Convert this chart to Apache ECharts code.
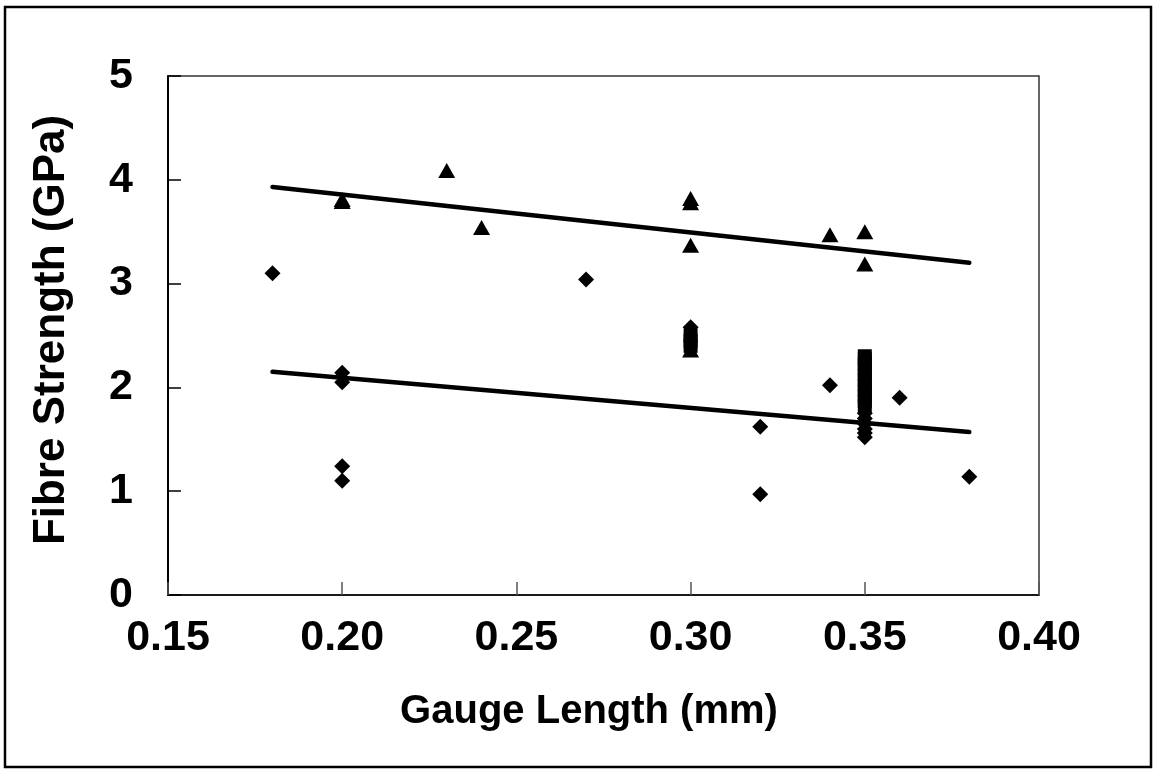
<!DOCTYPE html>
<html>
<head>
<meta charset="utf-8">
<script src="https://cdn.jsdelivr.net/npm/echarts@6/dist/echarts.min.js"></script>
<style>
html,body{margin:0;padding:0;background:#fff;}
#c{width:1154px;height:772px;}
</style>
</head>
<body>
<div id="c"></div>
<script>
// ---- data ----
const xTicks = [0.15, 0.20, 0.25, 0.30, 0.35, 0.40];
const yTicks = [0, 1, 2, 3, 4, 5];
const xTitle = 'Gauge Length (mm)';
const yTitle = 'Fibre Strength (GPa)';

// diamonds
const diamondX = [0.18, 0.20, 0.20, 0.20, 0.20, 0.27, 0.30, 0.32, 0.32, 0.34, 0.36, 0.38, 0.35, 0.35, 0.35, 0.35, 0.35, 0.35];
const diamondY = [3.10, 2.14, 2.05, 1.24, 1.10, 3.04, 2.58, 1.62, 0.97, 2.02, 1.90, 1.14, 1.52, 1.56, 1.60, 1.65, 1.70, 1.75];
// triangles
const triX = [0.20, 0.20, 0.23, 0.24, 0.30, 0.30, 0.30, 0.30, 0.34, 0.35, 0.35];
const triY = [3.79, 3.81, 4.09, 3.54, 3.78, 3.82, 3.37, 2.36, 3.47, 3.50, 3.19];
// squares
const sqX = [0.30, 0.30, 0.30, 0.35, 0.35, 0.35, 0.35, 0.35, 0.35, 0.35, 0.35, 0.35, 0.35, 0.35];
const sqY = [2.40, 2.45, 2.50, 1.82, 1.87, 1.92, 1.97, 2.02, 2.07, 2.12, 2.17, 2.22, 2.27, 2.30];
// trend lines (endpoints)
const upperTrendX = [0.18, 0.38];
const upperTrendY = [3.93, 3.20];
const lowerTrendX = [0.18, 0.38];
const lowerTrendY = [2.15, 1.57];

const zip = (a, b) => a.map((v, i) => [v, b[i]]);

const chart = echarts.init(document.getElementById('c'), null, {renderer: 'canvas'});
const FONT = '"Liberation Sans", Arial, sans-serif';
const mark = {color: '#000', opacity: 1};

chart.setOption({
  backgroundColor: '#ffffff',
  animation: false,
  grid: {left: 168, top: 76, right: 115, bottom: 177, show: true, borderColor: '#333', borderWidth: 1.5, backgroundColor: '#fff'},
  xAxis: {
    type: 'value', min: 0.15, max: 0.40, interval: 0.05,
    axisLine: {show: true, onZero: false, lineStyle: {color: '#000', width: 1.5}},
    axisTick: {show: true, inside: true, length: 13, lineStyle: {color: '#555', width: 1.5}},
    splitLine: {show: false},
    axisLabel: {margin: 22, color: '#000', fontFamily: FONT, fontWeight: 'bold', fontSize: 43,
      formatter: v => v.toFixed(2)}
  },
  yAxis: {
    type: 'value', min: 0, max: 5, interval: 1,
    axisLine: {show: true, onZero: false, lineStyle: {color: '#000', width: 2}},
    axisTick: {show: true, inside: true, length: 13, lineStyle: {color: '#000', width: 1.5}},
    splitLine: {show: false},
    axisLabel: {margin: 35, color: '#000', fontFamily: FONT, fontWeight: 'bold', fontSize: 43,
      formatter: v => String(v)}
  },
  graphic: [
    {type: 'rect', shape: {x: 5, y: 7, width: 1146, height: 760}, style: {fill: 'none', stroke: '#000', lineWidth: 2.5}, z: 100},
    {type: 'text', x: 589, y: 712, style: {text: xTitle, font: 'bold 40px ' + FONT, fill: '#000', textAlign: 'center', textVerticalAlign: 'middle'}},
    {type: 'text', x: 52, y: 330, rotation: Math.PI / 2, style: {text: yTitle, font: 'bold 44px ' + FONT, fill: '#000', textAlign: 'center', textVerticalAlign: 'middle'}}
  ],
  series: [
    {type: 'line', data: zip(upperTrendX, upperTrendY), symbol: 'none', lineStyle: {color: '#000', width: 4.5, cap: 'round', opacity: 1}, z: 3},
    {type: 'line', data: zip(lowerTrendX, lowerTrendY), symbol: 'none', lineStyle: {color: '#000', width: 4.5, cap: 'round', opacity: 1}, z: 3},
    {type: 'scatter', data: zip(sqX, sqY), symbol: 'rect', symbolSize: 14, itemStyle: mark, z: 4},
    {type: 'scatter', data: zip(diamondX, diamondY), symbol: 'diamond', symbolSize: 16, itemStyle: mark, z: 5},
    {type: 'scatter', data: zip(triX, triY), symbol: 'triangle', symbolSize: [17, 15], itemStyle: mark, z: 5}
  ]
});
</script>
</body>
</html>
